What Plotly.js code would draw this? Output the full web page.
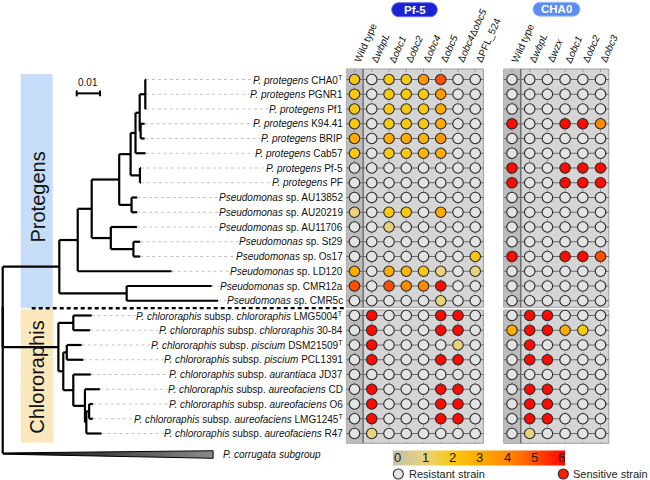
<!DOCTYPE html>
<html><head><meta charset="utf-8">
<script src="https://cdn.plot.ly/plotly-3.0.1.min.js"></script>
<style>html,body{margin:0;padding:0;background:#fff}#chart{width:650px;height:480px}</style>
</head><body><div id="chart"></div>
<script>
// ---------------- DATA ----------------
const strainLabels = [
 '<i>P. protegens</i> CHA0<sup>T</sup>',
 '<i>P. protegens</i> PGNR1',
 '<i>P. protegens</i> Pf1',
 '<i>P. protegens</i> K94.41',
 '<i>P. protegens</i> BRIP',
 '<i>P. protegens</i> Cab57',
 '<i>P. protegens</i> Pf-5',
 '<i>P. protegens</i> PF',
 '<i>Pseudomonas</i> sp. AU13852',
 '<i>Pseudomonas</i> sp. AU20219',
 '<i>Pseudomonas</i> sp. AU11706',
 '<i>Pseudomonas</i> sp. St29',
 '<i>Pseudomonas</i> sp. Os17',
 '<i>Pseudomonas</i> sp. LD120',
 '<i>Pseudomonas</i> sp. CMR12a',
 '<i>Pseudomonas</i> sp. CMR5c',
 '<i>P. chlororaphis</i> subsp. <i>chlororaphis</i> LMG5004<sup>T</sup>',
 '<i>P. chlororaphis</i> subsp. <i>chlororaphis</i> 30-84',
 '<i>P. chlororaphis</i> subsp. <i>piscium</i> DSM21509<sup>T</sup>',
 '<i>P. chlororaphis</i> subsp. <i>piscium</i> PCL1391',
 '<i>P. chlororaphis</i> subsp. <i>aurantiaca</i> JD37',
 '<i>P. chlororaphis</i> subsp. <i>aureofaciens</i> CD',
 '<i>P. chlororaphis</i> subsp. <i>aureofaciens</i> O6',
 '<i>P. chlororaphis</i> subsp. <i>aureofaciens</i> LMG1245<sup>T</sup>',
 '<i>P. chlororaphis</i> subsp. <i>aureofaciens</i> R47'
];
const groupNames = ['Protegens', 'Chlororaphis'];
const groupLabelRow = [8.0, 20.2];

// Tree: internal nodes (name, parent, branch length in substitutions/site)
const nodeNames  = ['root','PC','N9','N8','N5','N4','N3','N2','N1','G1','G2','G3','G4','N6','N7','N10','C0','C1','C2','C3','C4','C5','C7','C6'];
const nodeParent = [null,'root','PC','N9','N8','N5','N4','N3','N2','N1','N1','N3','N4','N5','N6','N9','PC','C0','C0','C2','C2','C4','C5','C7'];
const nodeLength = [0,0,0.0243,0.0079,0.0060,0.0118,0.0049,0.0021,0.0018,0.0024,0.0004,0.0040,0.0053,0.0082,0.0097,0.0289,0.0239,0.0064,0.0021,0.0015,0.0043,0.0050,0.0006,0.0012];
// Tips (one per strain row)
const tipParent = ['G1','G1','G1','G2','G2','N2','G3','G3','G4','G4','N6','N7','N7','N8','N10','N10','C1','C1','C3','C3','C4','C5','C6','C6','C7'];
const tipLength = [0.0003,0.0003,0.0003,0.0017,0.0017,0.0043,0.0004,0.0004,0.0024,0.0024,0.0112,0.0029,0.0029,0.0403,0.0365,0.0392,0.0079,0.0072,0.0064,0.0071,0.0075,0.0064,0.0016,0.0016,0.0065];
const outgroupLabel = '<i>P. corrugata subgroup</i>';
const outgroupLength = 0.0903;
const outgroupRow = 25.34;
const scaleBarLength = 0.01;

const pf5Mutants  = ['Wild type','Δ<i>wbpL</i>','Δ<i>obc1</i>','Δ<i>obc2</i>','Δ<i>obc4</i>','Δ<i>obc5</i>','Δ<i>obc4</i>Δ<i>obc5</i>','ΔPFL_524'];
const cha0Mutants = ['Wild type','Δ<i>wbpL</i>','Δ<i>wzx</i>','Δ<i>obc1</i>','Δ<i>obc2</i>','Δ<i>obc3</i>'];
const panelTitles = ['Pf-5', 'CHA0'];
const R = null; // resistant strain
const pf5Scores = [
 [2,R,2,2,3.5,5,R,R],
 [2,R,2,2,2,3.5,R,R],
 [2,R,2,2,2,3,R,R],
 [2,R,2,2,2,3,R,R],
 [3,R,3,3,2.7,3.5,R,R],
 [2,R,2,2,2.7,3,R,R],
 [R,R,R,R,R,R,R,R],
 [R,R,R,R,R,R,R,R],
 [R,R,R,R,R,R,R,R],
 [1,R,2,2,R,3,R,R],
 [R,R,1,R,R,R,R,R],
 [R,R,R,R,R,R,R,R],
 [R,R,R,R,R,R,R,2],
 [3,R,3,2.7,2,1,R,1],
 [5,R,5,4,4,6,R,R],
 [R,R,R,R,R,1,R,R],
 [R,6,R,R,R,6,6,R],
 [R,6,R,R,R,6,6,R],
 [R,6,R,R,R,R,1,R],
 [R,6,R,R,R,6,6,R],
 [R,R,R,R,R,R,R,R],
 [R,6,R,R,R,6,6,R],
 [R,6,R,R,R,6,6,R],
 [R,6,R,R,R,6,6,R],
 [R,1,R,R,R,R,R,R]
];
const cha0Scores = [
 [R,R,R,R,R,R],
 [R,R,R,R,R,R],
 [R,R,R,R,R,R],
 [6,R,R,6,6,4],
 [R,R,R,R,R,R],
 [R,R,R,R,R,R],
 [6,R,R,6,6,6],
 [6,R,R,6,6,6],
 [R,R,R,R,R,R],
 [R,R,R,R,R,R],
 [R,R,R,R,R,R],
 [R,R,R,R,R,R],
 [6,R,R,6,6,5],
 [R,R,R,R,R,R],
 [R,R,R,R,R,R],
 [R,R,R,R,R,R],
 [R,6,6,R,R,R],
 [3,6,6,3,2,R],
 [R,6,R,R,R,R],
 [R,6,6,R,R,R],
 [R,R,R,R,R,R],
 [R,6,6,R,R,R],
 [R,6,6,R,R,R],
 [R,6,6,R,R,R],
 [R,1,R,R,R,R]
];
const scoreTicks = [0,1,2,3,4,5,6];
const legendItems = ['Resistant strain','Sensitive strain'];

// ---------------- LAYOUT CONSTANTS ----------------
const W = 650, H = 480;
const FONT = 'Liberation Sans, Arial, sans-serif';
const PX_PER_UNIT = 2330, TREE_X0 = 2.7;
const ROW0 = 79.5, ROW_H = 14.75;
const PF5_X0 = 354.5, PF5_DX = 17.25;
const CHA_X0 = 512, CHA_DX = 17.7;
const CMIN = -0.16, CMAX = 6.12;
const CB_X0 = 393.3, CB_LEN = 171.7, CB_Y0 = 450, CB_Y1 = 465;
const px = v => v / W, py = v => 1 - v / H;
const rows = strainLabels.map((_, i) => i);

const stopVals = [CMIN,0,1,2,3,4,5,6,CMAX];
const stopCols = ['#c8c2aa','#cac3a4','#e8d27c','#f9c811','#ffab00','#ff8a00','#ff5000','#ff0a00','#ff0000'];
const colorscale = stopVals.map((v,i)=>[(v-CMIN)/(CMAX-CMIN), stopCols[i]]);

// ---------------- TREE LAYOUT ----------------
const parentOf = {}, lenOf = {}, kids = {};
nodeNames.forEach((n,i)=>{ parentOf[n]=nodeParent[i]; lenOf[n]=nodeLength[i]; kids[n]=[]; });
nodeNames.forEach((n,i)=>{ if (nodeParent[i]) kids[nodeParent[i]].push(n); });
rows.forEach(i=>{ const t='tip'+i; parentOf[t]=tipParent[i]; lenOf[t]=tipLength[i]; kids[tipParent[i]].push(t); });
kids['root'].push('out'); parentOf['out']='root'; lenOf['out']=0;
const X = {}, Y = {};
function gx(n){ if (X[n]!==undefined) return X[n]; X[n] = n==='root' ? 0 : gx(parentOf[n]) + lenOf[n]; return X[n]; }
function gy(n){ if (Y[n]!==undefined) return Y[n];
  if (n.startsWith('tip')) Y[n] = rows[+n.slice(3)];
  else if (n==='out') Y[n] = outgroupRow;
  else { const ys = kids[n].map(gy); Y[n] = (Math.min(...ys)+Math.max(...ys))/2; }
  return Y[n]; }
Object.keys(parentOf).forEach(n=>{gx(n);gy(n);}); gx('root'); gy('root');
const tx = [], ty = [];
nodeNames.forEach(n=>{
  const ys = kids[n].map(c=>Y[c]);
  tx.push(X[n],X[n],null); ty.push(Math.min(...ys),Math.max(...ys),null);
  kids[n].forEach(c=>{ if (c==='out') return; tx.push(X[n],X[c],null); ty.push(Y[c],Y[c],null); });
});
const labelEndUnits = (343 - TREE_X0)/PX_PER_UNIT;
const lx = [], ly = [];
rows.forEach(i=>{ lx.push(X['tip'+i], labelEndUnits, null); ly.push(i,i,null); });
const xr = X['root'];

const traces = [];
traces.push({type:'scatter',mode:'lines',x:lx,y:ly,line:{color:'#c2c2c2',width:1,dash:'3px,3px'},hoverinfo:'skip'});
traces.push({type:'scatter',mode:'lines',x:tx,y:ty,line:{color:'#000',width:2.2},hoverinfo:'skip'});
traces.push({type:'scatter',mode:'lines',fill:'toself',
  x:[xr, xr+outgroupLength, xr+outgroupLength, xr],
  y:[outgroupRow-0.02, outgroupRow-0.17, outgroupRow+0.34, outgroupRow+0.06],
  line:{color:'#000',width:1}, fillcolor:'#444',
  fillgradient:{type:'horizontal',colorscale:[[0,'#000'],[1,'#8a8a8a']]}, hoverinfo:'skip'});

// ---------------- PANELS ----------------
const boxTop = [-0.71, 15.63], boxBot = [15.44, 24.66];
const shapes = [];
const annotations = [];
function panel(scores, mutants, xa, withScale){
  const nc = mutants.length, L = -0.47, Rr = nc - 1 + 0.47;
  for (let b=0;b<2;b++){
    shapes.push({type:'rect',layer:'below',xref:xa,yref:'y',x0:L,x1:Rr,y0:boxTop[b],y1:boxBot[b],fillcolor:'#d5d5d5',line:{color:'#9c9c9c',width:1}});
    shapes.push({type:'rect',layer:'below',xref:xa,yref:'y',x0:L,x1:0.5,y0:boxTop[b],y1:boxBot[b],fillcolor:'#bcbcbc',line:{width:0}});
    shapes.push({type:'line',layer:'below',xref:xa,yref:'y',x0:0.5,x1:0.5,y0:boxTop[b],y1:boxBot[b],line:{color:'#444',width:1}});
  }
  const vx=[], vy=[], hx=[], hy=[];
  for (let c=0;c<nc;c++) for (let b=0;b<2;b++){ vx.push(c,c,null); vy.push(boxTop[b],boxBot[b],null); }
  rows.forEach(r=>{ hx.push(L,Rr,null); hy.push(r,r,null); });
  traces.push({type:'scatter',mode:'lines',xaxis:xa,yaxis:'y',x:vx,y:vy,line:{color:'#9a9a9a',width:1,dash:'dot'},hoverinfo:'skip'});
  traces.push({type:'scatter',mode:'lines',xaxis:xa,yaxis:'y',x:hx,y:hy,line:{color:'#6a6a6a',width:1},hoverinfo:'skip'});
  const rx=[], ry=[], sx=[], sy=[], sc=[];
  rows.forEach(r=>scores[r].forEach((v,c)=>{ if (v===null){rx.push(c);ry.push(r);} else {sx.push(c);sy.push(r);sc.push(v);} }));
  traces.push({type:'scatter',mode:'markers',xaxis:xa,yaxis:'y',x:rx,y:ry,marker:{size:10.5,color:'#e3e3e3',line:{color:'#2a2a2a',width:1.1}},hoverinfo:'skip'});
  const m = {size:10.5,color:sc,colorscale:colorscale,cmin:CMIN,cmax:CMAX,line:{color:'#2a2a2a',width:1.1},showscale:withScale};
  if (withScale) m.colorbar = {orientation:'h',x:px(CB_X0+CB_LEN/2),xanchor:'center',y:py((CB_Y0+CB_Y1)/2),yanchor:'middle',
     len:CB_LEN,lenmode:'pixels',thickness:CB_Y1-CB_Y0,thicknessmode:'pixels',xpad:0,ypad:0,outlinewidth:0,
     showticklabels:false,ticks:''};
  traces.push({type:'scatter',mode:'markers',xaxis:xa,yaxis:'y',x:sx,y:sy,marker:m,hoverinfo:'skip'});
  mutants.forEach((t,c)=>annotations.push({xref:xa,yref:'y',x:c,y:-0.86,xanchor:'left',yanchor:'bottom',xshift:-5,
     textangle:-66,text:t,showarrow:false,font:{family:FONT,size:10,color:'#111'}}));
}
panel(pf5Scores, pf5Mutants, 'x2', true);
panel(cha0Scores, cha0Mutants, 'x3', false);

// colour-scale numbers drawn on the bar
scoreTicks.forEach(v=>annotations.push({xref:'paper',yref:'paper',
  x:px(CB_X0 + (v-CMIN)/(CMAX-CMIN)*CB_LEN), y:py((CB_Y0+CB_Y1)/2+0.3), xanchor:'center', yanchor:'middle',
  text:String(v), showarrow:false, font:{family:FONT,size:13,color:'#1a1a1a'}}));

// ---------------- DECORATIONS ----------------
function pill(cx, cy, w, h, fill, stroke){
  const r=h/2, k=0.5523*r, x0=cx-w/2, x1=cx+w/2, y0=cy-h/2, y1=cy+h/2;
  const P=(x,y)=>px(x).toFixed(5)+','+py(y).toFixed(5);
  const d='M'+P(x0+r,y0)+' L'+P(x1-r,y0)+' C'+P(x1-r+k,y0)+' '+P(x1,cy-k)+' '+P(x1,cy)+
          ' C'+P(x1,cy+k)+' '+P(x1-r+k,y1)+' '+P(x1-r,y1)+' L'+P(x0+r,y1)+
          ' C'+P(x0+r-k,y1)+' '+P(x0,cy+k)+' '+P(x0,cy)+' C'+P(x0,cy-k)+' '+P(x0+r-k,y0)+' '+P(x0+r,y0)+' Z';
  shapes.push({type:'path',layer:'below',xref:'paper',yref:'paper',path:d,fillcolor:fill,line:{color:stroke,width:1}});
}
pill(414.5, 9.7, 45.6, 14, '#1b22d4', '#6670ec');
pill(556.5, 9.2, 47, 14, '#5b8cf0', '#a8c2f7');
annotations.push({xref:'paper',yref:'paper',x:px(414.5),y:py(10),xanchor:'center',yanchor:'middle',text:'<b>'+panelTitles[0]+'</b>',showarrow:false,font:{family:FONT,size:11.5,color:'#fff'}});
annotations.push({xref:'paper',yref:'paper',x:px(556.5),y:py(9.5),xanchor:'center',yanchor:'middle',text:'<b>'+panelTitles[1]+'</b>',showarrow:false,font:{family:FONT,size:11.5,color:'#fff'}});

// clade bands
shapes.push({type:'rect',layer:'below',xref:'paper',yref:'paper',x0:px(20.7),x1:px(52.7),y0:py(74),y1:py(308.3),fillcolor:'#c6ddf7',line:{width:0}});
shapes.push({type:'rect',layer:'below',xref:'paper',yref:'paper',x0:px(20.7),x1:px(53.3),y0:py(309.3),y1:py(442.7),fillcolor:'#fbe7bd',line:{width:0}});
annotations.push({xref:'paper',yref:'y',x:px(37),y:groupLabelRow[0],xanchor:'center',yanchor:'middle',text:groupNames[0],textangle:-90,showarrow:false,font:{family:FONT,size:20,color:'#111'}});
annotations.push({xref:'paper',yref:'y',x:px(37.3),y:groupLabelRow[1],xanchor:'center',yanchor:'middle',text:groupNames[1],textangle:-90,showarrow:false,font:{family:FONT,size:20,color:'#111'}});
// separator
shapes.push({type:'line',xref:'paper',yref:'paper',x0:px(31.7),x1:px(345),y0:py(308.3),y1:py(308.3),line:{color:'#000',width:2.6,dash:'4px,3px'}});

// scale bar
const sb0 = (76.7-TREE_X0)/PX_PER_UNIT, sbY = 0.94;
shapes.push({type:'line',xref:'x',yref:'y',x0:sb0,x1:sb0+scaleBarLength,y0:sbY,y1:sbY,line:{color:'#000',width:2}});
shapes.push({type:'line',xref:'x',yref:'y',x0:sb0,x1:sb0,y0:sbY-0.2,y1:sbY+0.2,line:{color:'#000',width:2}});
shapes.push({type:'line',xref:'x',yref:'y',x0:sb0+scaleBarLength,x1:sb0+scaleBarLength,y0:sbY-0.2,y1:sbY+0.2,line:{color:'#000',width:2}});
annotations.push({xref:'x',yref:'y',x:sb0+scaleBarLength/2,y:sbY-0.22,xanchor:'center',yanchor:'bottom',text:String(scaleBarLength),showarrow:false,font:{family:FONT,size:10,color:'#111'}});

// strain labels
rows.forEach(i=>annotations.push({xref:'paper',yref:'y',x:px(343.5),y:i,xanchor:'right',yanchor:'middle',text:strainLabels[i],
  showarrow:false,bgcolor:'#ffffff',borderpad:0,font:{family:FONT,size:10,color:'#111'}}));
annotations.push({xref:'x',yref:'y',x:xr+outgroupLength+0.0035,y:outgroupRow+0.05,xanchor:'left',yanchor:'middle',text:outgroupLabel,showarrow:false,font:{family:FONT,size:10,color:'#111'}});

// legend
shapes.push({type:'circle',xref:'paper',yref:'paper',x0:px(393.3),x1:px(403.3),y0:py(469),y1:py(479),fillcolor:'#e3e3e3',line:{color:'#2a2a2a',width:1.1}});
shapes.push({type:'circle',xref:'paper',yref:'paper',x0:px(558.3),x1:px(568.3),y0:py(469),y1:py(479),fillcolor:'#ff1a00',line:{color:'#2a2a2a',width:1.1}});
annotations.push({xref:'paper',yref:'paper',x:px(406.5),y:py(474),xanchor:'left',yanchor:'middle',text:legendItems[0],showarrow:false,font:{family:FONT,size:11,color:'#222'}});
annotations.push({xref:'paper',yref:'paper',x:px(570.5),y:py(474),xanchor:'left',yanchor:'middle',text:legendItems[1],showarrow:false,font:{family:FONT,size:11,color:'#222'}});

const layout = {
  width:W, height:H, margin:{l:0,r:0,t:0,b:0}, paper_bgcolor:'#fff', plot_bgcolor:'rgba(0,0,0,0)', showlegend:false,
  xaxis:{domain:[0,1],range:[-TREE_X0/PX_PER_UNIT,(W-TREE_X0)/PX_PER_UNIT],visible:false,fixedrange:true},
  xaxis2:{overlaying:'x',anchor:'y',range:[-PF5_X0/PF5_DX,(W-PF5_X0)/PF5_DX],visible:false,fixedrange:true},
  xaxis3:{overlaying:'x',anchor:'y',range:[-CHA_X0/CHA_DX,(W-CHA_X0)/CHA_DX],visible:false,fixedrange:true},
  yaxis:{domain:[0,1],range:[(H-ROW0)/ROW_H,-ROW0/ROW_H],visible:false,fixedrange:true},
  shapes:shapes, annotations:annotations, font:{family:FONT}
};
Plotly.newPlot('chart', traces, layout, {displayModeBar:false, staticPlot:true});
</script></body></html>
